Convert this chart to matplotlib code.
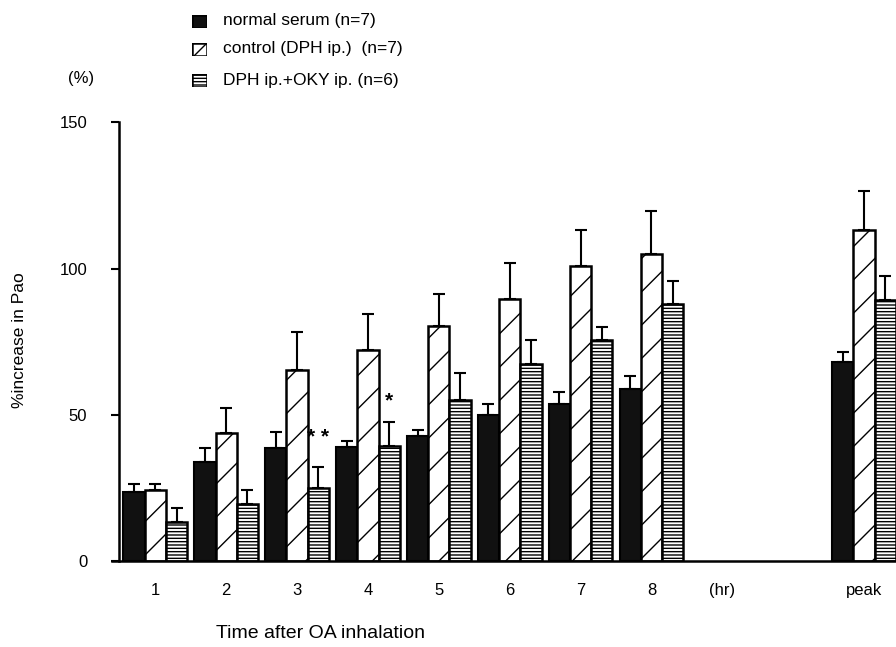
import numpy as np
import matplotlib.pyplot as plt

plt.rcParams['font.family'] = ['Liberation Sans', 'DejaVu Sans']
plt.rcParams['hatch.linewidth'] = 1.0

# positions of the groups (9 is the "(hr)" gap label, 11 is peak)
groups = [1, 2, 3, 4, 5, 6, 7, 8, 11]
tick_pos = [1, 2, 3, 4, 5, 6, 7, 8, 9, 11]
tick_labels = ['1', '2', '3', '4', '5', '6', '7', '8', '(hr)', 'peak']

normal = [23.7, 33.9, 38.5, 39.0, 42.7, 49.9, 53.6, 58.7, 68.1]
normal_err = [2.6, 4.6, 5.5, 2.0, 2.1, 3.7, 4.2, 4.5, 3.4]
control = [24.3, 43.6, 65.3, 72.2, 80.3, 89.7, 100.8, 104.9, 113.3]
control_err = [2.0, 8.6, 13.0, 12.2, 10.9, 12.2, 12.2, 14.7, 13.2]
oky = [13.4, 19.4, 25.1, 39.4, 55.2, 67.5, 75.5, 88.0, 89.4]
oky_err = [4.8, 4.9, 7.1, 8.0, 8.9, 8.0, 4.5, 7.8, 8.0]

labels = ['normal serum (n=7)', 'control (DPH ip.)  (n=7)', 'DPH ip.+OKY ip. (n=6)']

fig = plt.figure(figsize=(8.96, 6.47), dpi=100)
ax = fig.add_axes([0.133, 0.133, 0.867, 0.678])

x = np.array(groups)
w = 0.3
ek = dict(elinewidth=1.5, capsize=4, capthick=1.5, ecolor='black')
ax.bar(x - w, normal, w, color='#111111', edgecolor='black', linewidth=1.5,
       yerr=[np.zeros(len(normal)), normal_err], error_kw=ek)
ax.bar(x, control, w, color='white', edgecolor='black', linewidth=1.8, hatch='/',
       yerr=[np.zeros(len(control)), control_err], error_kw=ek)
ax.bar(x + w, oky, w, color='white', edgecolor='black', linewidth=1.8, hatch='-----',
       yerr=[np.zeros(len(oky)), oky_err], error_kw=ek)

# significance marks
ax.text(3 + w, 39.0, '* *', ha='center', va='bottom', fontsize=15, fontweight='bold')
ax.text(4 + w, 51.5, '*', ha='center', va='bottom', fontsize=15, fontweight='bold')

ax.set_xlim(0.49, 11.45)
ax.set_ylim(0, 150)
ax.set_yticks([0, 50, 100, 150])
ax.set_xticks(tick_pos)
ax.set_xticklabels(tick_labels)
ax.tick_params(axis='x', length=0, pad=16, labelsize=12)
ax.tick_params(axis='y', length=6, width=1.5, labelsize=12, pad=17)
for s in ['top', 'right']:
    ax.spines[s].set_visible(False)
ax.spines['left'].set_linewidth(1.8)
ax.spines['bottom'].set_linewidth(1.8)
ax.spines['bottom'].set_bounds(0.39, 11.45)

fig.text(19 / 896, 1 - 340 / 647, '%increase in Pao', rotation=90, ha='center', va='center', fontsize=12.5)
fig.text(321 / 896, 1 - 634 / 647, 'Time after OA inhalation', ha='center', va='center', fontsize=14)
fig.text(81 / 896, 1 - 79 / 647, '(%)', ha='center', va='center', fontsize=12)

# legend drawn by hand at the top
leg_y = [21, 49, 80]
for ly, lab, fc, h in zip(leg_y, labels, ['#111111', 'white', 'white'], [None, '//', '-----']):
    sq = fig.add_axes([192 / 896, 1 - (ly + 7) / 647, 15 / 896, 13 / 647])
    sq.bar([0], [1], 1, color=fc, edgecolor='black', linewidth=1.8, hatch=h)
    sq.set_xlim(-0.5, 0.5)
    sq.set_ylim(0, 1)
    sq.axis('off')
    fig.text(223 / 896, 1 - ly / 647, lab, ha='left', va='center', fontsize=12.5)

fig.savefig('out.png', dpi=100)
